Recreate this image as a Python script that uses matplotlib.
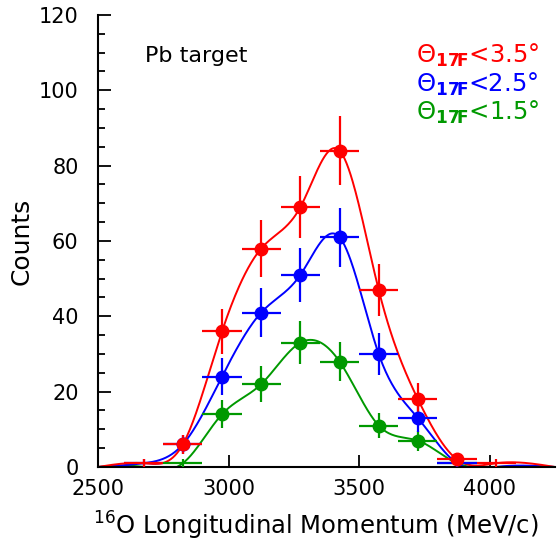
import numpy as np
import matplotlib.pyplot as plt

# bin centres (MeV/c) and counts
centres = [2675, 2825, 2975, 3125, 3275, 3425, 3575, 3725, 3875, 4025]
half_width = 75
red_counts = [1, 6, 36, 58, 69, 84, 47, 18, 2, 1]
blue_counts = [1, 6, 24, 41, 51, 61, 30, 13, 1, 0]
green_counts = [0, 1, 14, 22, 33, 28, 11, 7, 1, 0]
labels = [r'$\Theta_{\mathbf{17F}}$<3.5°', r'$\Theta_{\mathbf{17F}}$<2.5°', r'$\Theta_{\mathbf{17F}}$<1.5°']
colors = ['#ff0000', '#0000ff', '#009900']


def smooth(xs, ys, n=40):
    # natural cubic spline through the points (like a ROOT "C" graph)
    xs = np.asarray(xs, float)
    ys = np.asarray(ys, float)
    m = len(xs)
    h = np.diff(xs)
    A = np.zeros((m, m))
    b = np.zeros(m)
    A[0, 0] = A[-1, -1] = 1
    for i in range(1, m - 1):
        A[i, i - 1] = h[i - 1]
        A[i, i] = 2 * (h[i - 1] + h[i])
        A[i, i + 1] = h[i]
        b[i] = 6 * ((ys[i + 1] - ys[i]) / h[i] - (ys[i] - ys[i - 1]) / h[i - 1])
    M = np.linalg.solve(A, b)
    out_x, out_y = [], []
    for i in range(m - 1):
        t = np.linspace(xs[i], xs[i + 1], n)
        a = xs[i + 1] - t
        c = t - xs[i]
        y = (M[i] * a**3 + M[i + 1] * c**3) / (6 * h[i]) \
            + (ys[i] / h[i] - M[i] * h[i] / 6) * a + (ys[i + 1] / h[i] - M[i + 1] * h[i] / 6) * c
        out_x.append(t)
        out_y.append(y)
    return np.concatenate(out_x), np.concatenate(out_y)


fig = plt.figure(figsize=(5.59, 5.43), dpi=100)
ax = fig.add_axes([0.1753, 0.14, 0.8175, 0.8324])

series = [(green_counts, colors[2]), (blue_counts, colors[1]), (red_counts, colors[0])]
for counts, col in series:
    nodes_x = [2500] + centres + [4250]
    nodes_y = [0] + counts + [0]
    sx, sy = smooth(nodes_x, nodes_y)
    ax.plot(sx, np.clip(sy, 0, None), color=col, lw=1.4, zorder=2)
    c = np.array(counts, float)
    x = np.array(centres, float)
    keep = c > 0
    ax.errorbar(x[keep], c[keep], xerr=half_width, yerr=np.sqrt(c[keep]),
                fmt='none', ecolor=col, elinewidth=1.6, capsize=0, zorder=3)
    big = c >= 2
    ax.plot(x[big], c[big], 'o', color=col, ms=9, zorder=4)

ax.set_xlim(2500, 4250)
ax.set_ylim(0, 120)
ax.set_xticks([2500, 3000, 3500, 4000])
ax.set_yticks(range(0, 121, 20))
ax.set_yticks(range(0, 121, 5), minor=True)
ax.tick_params(axis='both', direction='in', labelsize=15, width=1.3, length=9)
ax.tick_params(axis='y', pad=14)
ax.tick_params(axis='x', pad=9)
ax.tick_params(axis='y', which='minor', direction='in', width=1.3, length=5)
ax.spines['top'].set_visible(False)
ax.spines['right'].set_visible(False)
for s in ['left', 'bottom']:
    ax.spines[s].set_linewidth(1.5)

ax.set_ylabel('Counts', fontsize=18)
ax.yaxis.set_label_coords(-0.14, 0.5)
ax.set_xlabel(r'$^{16}$O Longitudinal Momentum (MeV/c)', fontsize=17.5)
ax.xaxis.set_label_coords(0.476, -0.095)

ax.text(0.103, 0.91, 'Pb target', transform=ax.transAxes, fontsize=16, va='center')
for i, (lab, col) in enumerate(zip(labels, colors)):
    ax.text(0.696, 0.91 - i * 0.063, lab, transform=ax.transAxes, fontsize=17.5,
            color=col, va='center')

fig.savefig('out.png', dpi=100)
